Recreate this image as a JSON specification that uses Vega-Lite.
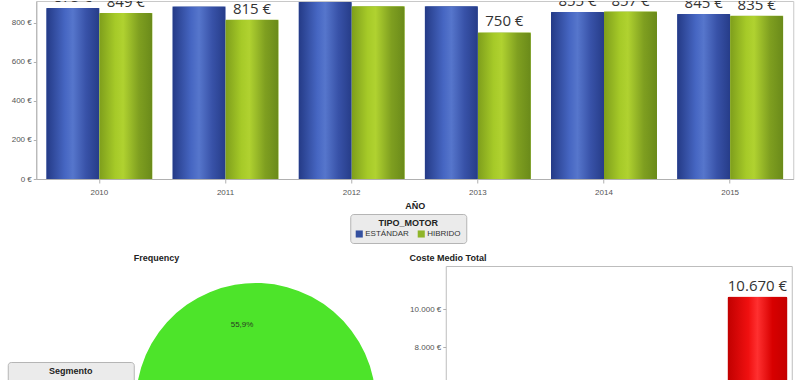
{
  "$schema": "https://vega.github.io/schema/vega-lite/v6.json",
  "background": "white",
  "padding": {"left": 7, "top": 0, "right": 0, "bottom": 0},
  "datasets": {
    "anual": [
      {"AÑO": "2010", "TIPO_MOTOR": "ESTÁNDAR", "Coste": 875},
      {"AÑO": "2010", "TIPO_MOTOR": "HIBRIDO", "Coste": 849},
      {"AÑO": "2011", "TIPO_MOTOR": "ESTÁNDAR", "Coste": 883},
      {"AÑO": "2011", "TIPO_MOTOR": "HIBRIDO", "Coste": 815},
      {"AÑO": "2012", "TIPO_MOTOR": "ESTÁNDAR", "Coste": 906},
      {"AÑO": "2012", "TIPO_MOTOR": "HIBRIDO", "Coste": 884},
      {"AÑO": "2013", "TIPO_MOTOR": "ESTÁNDAR", "Coste": 884},
      {"AÑO": "2013", "TIPO_MOTOR": "HIBRIDO", "Coste": 750},
      {"AÑO": "2014", "TIPO_MOTOR": "ESTÁNDAR", "Coste": 855},
      {"AÑO": "2014", "TIPO_MOTOR": "HIBRIDO", "Coste": 857},
      {"AÑO": "2015", "TIPO_MOTOR": "ESTÁNDAR", "Coste": 845},
      {"AÑO": "2015", "TIPO_MOTOR": "HIBRIDO", "Coste": 835}
    ],
    "segmentos": [
      {"Segmento": "Segmento A", "Porcentaje": 0.559},
      {"Segmento": "Segmento B", "Porcentaje": 0.441}
    ],
    "coste": [
      {"Categoria": "Total", "Coste": 10670}
    ]
  },
  "spacing": 9,
  "center": true,
  "resolve": {"scale": {"color": "independent"}, "legend": {"color": "independent"}},
  "vconcat": [
    {
      "width": 757,
      "height": 178,
      "view": {"stroke": "#c8c8c8"},
      "title": {"text": " ", "orient": "right", "offset": 86, "fontSize": 10},
      "data": {"name": "anual"},
      "encoding": {
        "x": {
          "field": "AÑO", "type": "nominal",
          "scale": {"paddingInner": 0.16, "paddingOuter": 0.08},
          "axis": {"title": "AÑO", "labelAngle": 0, "tickSize": 4, "labelPadding": 5, "titlePadding": 5}
        },
        "xOffset": {"field": "TIPO_MOTOR", "type": "nominal", "sort": ["ESTÁNDAR", "HIBRIDO"]},
        "y": {
          "field": "Coste", "type": "quantitative",
          "scale": {"domain": [0, 911], "nice": false, "clamp": true},
          "axis": {"title": null, "values": [0, 200, 400, 600, 800], "format": "$,.0f", "labelPadding": 2}
        }
      },
      "layer": [
        {
          "mark": {"type": "bar"},
          "encoding": {
            "color": {
              "field": "TIPO_MOTOR", "type": "nominal",
              "scale": {"domain": ["ESTÁNDAR", "HIBRIDO"], "range": ["#34509f", "#8fb52a"]},
              "legend": {
                "title": "TIPO_MOTOR", "orient": "none", "legendX": 314, "legendY": 213,
                "direction": "horizontal", "titleAnchor": "middle",
                "titleFontSize": 9, "titleFontWeight": "bold", "titleColor": "#222", "titlePadding": 2,
                "labelFontSize": 8, "labelColor": "#333", "labelOffset": 2,
                "symbolType": "square", "symbolSize": 50, "symbolStrokeWidth": 0,
                "columnPadding": 8, "padding": 5,
                "fillColor": "#ebebeb", "strokeColor": "#b5b5b5", "cornerRadius": 3
              }
            }
          }
        },
        {
          "transform": [{"filter": "datum.TIPO_MOTOR === 'ESTÁNDAR'"}],
          "mark": {
            "type": "bar", "cornerRadiusTopLeft": 2, "cornerRadiusTopRight": 2,
            "fill": {
              "gradient": "linear", "x1": 0, "x2": 1, "y1": 0, "y2": 0,
              "stops": [
                {"offset": 0, "color": "#243a86"},
                {"offset": 0.35, "color": "#4666c2"},
                {"offset": 0.5, "color": "#5676cc"},
                {"offset": 0.75, "color": "#3852a8"},
                {"offset": 1, "color": "#263c88"}
              ]
            }
          }
        },
        {
          "transform": [{"filter": "datum.TIPO_MOTOR === 'HIBRIDO'"}],
          "mark": {
            "type": "bar", "cornerRadiusTopLeft": 2, "cornerRadiusTopRight": 2,
            "fill": {
              "gradient": "linear", "x1": 0, "x2": 1, "y1": 0, "y2": 0,
              "stops": [
                {"offset": 0, "color": "#7e9e1c"},
                {"offset": 0.3, "color": "#a6ca28"},
                {"offset": 0.45, "color": "#b0d230"},
                {"offset": 0.75, "color": "#7f9f20"},
                {"offset": 1, "color": "#6a8a1a"}
              ]
            }
          }
        },
        {
          "mark": {"type": "text", "clip": true, "baseline": "bottom", "dy": -3, "font": "Open Sans", "fontSize": 15, "color": "#333333"},
          "encoding": {"text": {"field": "Coste", "type": "quantitative", "format": "$,.0f"}}
        }
      ]
    },
    {
      "spacing": 31,
      "hconcat": [
        {
          "width": 244,
          "height": 274,
          "data": {"name": "segmentos"},
          "title": {"text": "Frequency", "anchor": "start", "frame": "group", "fontSize": 9, "fontWeight": "bold", "color": "#222", "offset": 3},
          "encoding": {
            "theta": {"field": "Porcentaje", "type": "quantitative", "stack": true, "scale": {"range": [4.353, 10.636]}},
            "order": {"field": "Porcentaje", "type": "quantitative", "sort": "descending"}
          },
          "layer": [
            {
              "mark": {"type": "arc", "outerRadius": 120},
              "encoding": {
                "color": {
                  "field": "Segmento", "type": "nominal",
                  "scale": {"domain": ["Segmento A", "Segmento B"], "range": ["#4de42a", "#3f7fd6"]},
                  "legend": {
                    "title": "Segmento", "orient": "none", "legendX": -126, "legendY": 96,
                    "direction": "horizontal", "titleAnchor": "middle",
                    "titleFontSize": 9, "titleFontWeight": "bold", "titleColor": "#222", "titlePadding": 6,
                    "labelFontSize": 8, "labelColor": "#333",
                    "symbolType": "square", "symbolSize": 50, "symbolStrokeWidth": 0,
                    "columnPadding": 2, "padding": 5,
                    "fillColor": "#ebebeb", "strokeColor": "#b5b5b5", "cornerRadius": 3
                  }
                }
              }
            },
            {
              "mark": {"type": "text", "radius": 79, "fontSize": 8, "color": "#2a3a22"},
              "encoding": {
                "detail": {"field": "Segmento", "type": "nominal"},
                "text": {"field": "Porcentaje", "type": "quantitative", "format": ".1%"}
              }
            }
          ]
        },
        {
          "width": 346,
          "height": 233,
          "view": {"stroke": "#bdbdbd"},
          "data": {"name": "coste"},
          "title": {"text": "Coste Medio Total", "anchor": "start", "frame": "bounds", "fontSize": 9, "fontWeight": "bold", "color": "#222", "offset": 3},
          "encoding": {
            "x": {"field": "Categoria", "type": "nominal", "axis": null, "scale": {"paddingInner": 0.58, "paddingOuter": 1, "align": 0.985}},
            "y": {
              "field": "Coste", "type": "quantitative",
              "scale": {"domain": [0, 12280], "nice": false},
              "axis": {"title": null, "values": [0, 2000, 4000, 6000, 8000, 10000], "format": "$,.0f", "domain": false, "labelPadding": 2}
            }
          },
          "layer": [
            {
              "mark": {
                "type": "bar", "cornerRadiusTopLeft": 2, "cornerRadiusTopRight": 2,
                "fill": {
                  "gradient": "linear", "x1": 0, "x2": 1, "y1": 0, "y2": 0,
                  "stops": [
                    {"offset": 0, "color": "#c00000"},
                    {"offset": 0.35, "color": "#f01010"},
                    {"offset": 0.5, "color": "#ff3030"},
                    {"offset": 0.75, "color": "#d80000"},
                    {"offset": 1, "color": "#c40000"}
                  ]
                }
              }
            },
            {
              "mark": {"type": "text", "baseline": "bottom", "dy": -3, "font": "Open Sans", "fontSize": 15, "color": "#333333"},
              "encoding": {"text": {"field": "Coste", "type": "quantitative", "format": "$,.0f"}}
            }
          ]
        }
      ]
    }
  ],
  "config": {
    "locale": {"number": {"decimal": ",", "thousands": ".", "grouping": [3], "currency": ["", " €"]}},
    "font": "Liberation Sans",
    "view": {"stroke": null},
    "axis": {
      "labelFont": "Liberation Sans Narrow, Liberation Sans",
      "labelFontSize": 8,
      "labelColor": "#555555",
      "domainColor": "#b0b0b0",
      "tickColor": "#b0b0b0",
      "tickSize": 3,
      "grid": false,
      "titleFont": "Liberation Sans",
      "titleFontSize": 9,
      "titleFontWeight": "bold",
      "titleColor": "#222222"
    },
    "legend": {"labelFont": "Liberation Sans Narrow, Liberation Sans", "titleFont": "Liberation Sans"},
    "title": {"font": "Liberation Sans"}
  }
}
